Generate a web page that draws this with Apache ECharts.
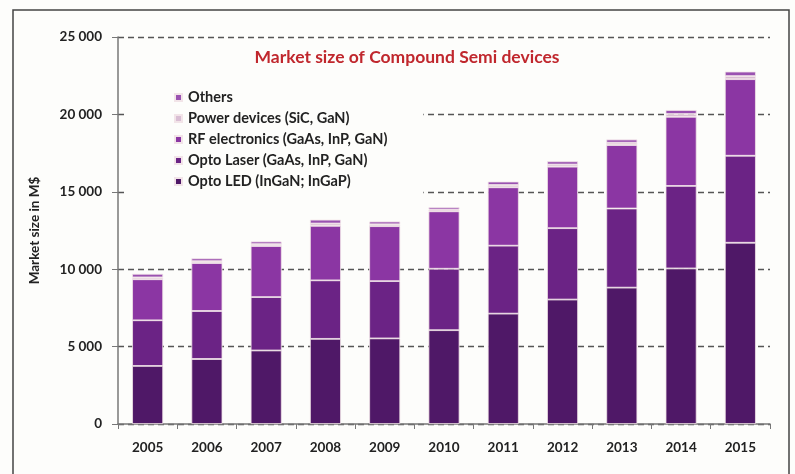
<!DOCTYPE html>
<html>
<head>
<meta charset="utf-8">
<title>Market size of Compound Semi devices</title>
<script src="https://cdn.jsdelivr.net/npm/echarts@6/dist/echarts.min.js"></script>
<style>
  html, body { margin: 0; padding: 0; background: #fdfdfb; }
  #chart { width: 795px; height: 474px; }
</style>
</head>
<body>
<div id="chart"></div>
<script>
// values, M$
var years = ['2005', '2006', '2007', '2008', '2009', '2010', '2011', '2012', '2013', '2014', '2015']
var optoLed = [3750, 4200, 4750, 5500, 5530, 6060, 7130, 8040, 8810, 10050, 11710]
var optoLaser = [2950, 3100, 3450, 3780, 3700, 3970, 4390, 4610, 5110, 5330, 5620]
var rfElectronics = [2650, 3100, 3300, 3520, 3550, 3710, 3770, 3970, 4100, 4465, 4945]
var powerDevices = [120, 120, 120, 150, 120, 110, 150, 140, 150, 180, 200]
var others = [230, 180, 170, 250, 180, 150, 220, 210, 210, 255, 290]
var yTicks = [0, 5000, 10000, 15000, 20000, 25000]

var seriesDefs = [
  { name: 'Opto LED (InGaN; InGaP)', data: optoLed, color: '#4f1867' },
  { name: 'Opto Laser (GaAs, InP, GaN)', data: optoLaser, color: '#6b2385' },
  { name: 'RF electronics (GaAs, InP, GaN)', data: rfElectronics, color: '#8b36a3' },
  { name: 'Power devices (SiC, GaN)', data: powerDevices, color: '#d9bdd3' },
  { name: 'Others', data: others, color: '#9a52b1' }
]

var font = 'Lato, "Open Sans", sans-serif'
var chart = echarts.init(document.getElementById('chart'))

chart.setOption({
  backgroundColor: '#fdfdfb',
  animation: false,
  textStyle: { fontFamily: font },
  title: {
    text: 'Market size of Compound Semi devices',
    left: 402,
    textAlign: 'center',
    top: 43,
    textStyle: { color: '#c0272d', fontSize: 17.5, fontWeight: 'bold', fontFamily: font }
  },
  graphic: [{
    type: 'rect',
    shape: { x: 13, y: 10, width: 776, height: 480 },
    style: { fill: 'none', stroke: '#444', lineWidth: 1.5 },
    silent: true
  }],
  legend: {
    orient: 'vertical',
    left: 126,
    top: 84,
    padding: [6, 36, 9, 48],
    backgroundColor: '#fdfdfb',
    itemGap: 6,
    itemWidth: 7,
    itemHeight: 7,
    icon: 'rect',
    data: seriesDefs.map(function (s) { return s.name }).reverse(),
    textStyle: { fontSize: 14.5, fontWeight: 'bold', color: '#222', fontFamily: font, padding: [0, 0, 0, 1] }
  },
  grid: { left: 118, right: 25, top: 37, bottom: 50 },
  xAxis: {
    type: 'category',
    data: years,
    axisLine: { lineStyle: { color: '#777', width: 1.5 } },
    axisTick: { show: true, length: 5, lineStyle: { color: '#777' } },
    axisLabel: { color: '#222', fontSize: 13.5, fontWeight: 'bold', margin: 17, fontFamily: font }
  },
  yAxis: {
    type: 'value',
    min: yTicks[0],
    max: yTicks[yTicks.length - 1],
    interval: yTicks[1] - yTicks[0],
    name: 'Market size in M$',
    nameLocation: 'middle',
    nameGap: 76,
    nameTextStyle: { color: '#222', fontSize: 13.5, fontWeight: 'bold', fontFamily: font },
    axisLine: { show: true, lineStyle: { color: '#777', width: 1.5 } },
    axisTick: { show: true, length: 6, lineStyle: { color: '#777' } },
    axisLabel: {
      color: '#222', fontSize: 13.5, fontWeight: 'bold', margin: 16, fontFamily: font,
      formatter: function (v) { return v >= 1000 ? Math.floor(v / 1000) + ' ' + String(v % 1000).padStart(3, '0') : String(v) }
    },
    splitLine: { show: true, lineStyle: { color: '#555', type: [6, 4], width: 1.4 } }
  },
  series: seriesDefs.map(function (s) {
    return {
      name: s.name,
      type: 'bar',
      stack: 'total',
      barWidth: 31,
      data: s.data,
      itemStyle: { color: s.color, borderColor: '#f2e4e8', borderWidth: 0.8 }
    }
  })
})
</script>
</body>
</html>
